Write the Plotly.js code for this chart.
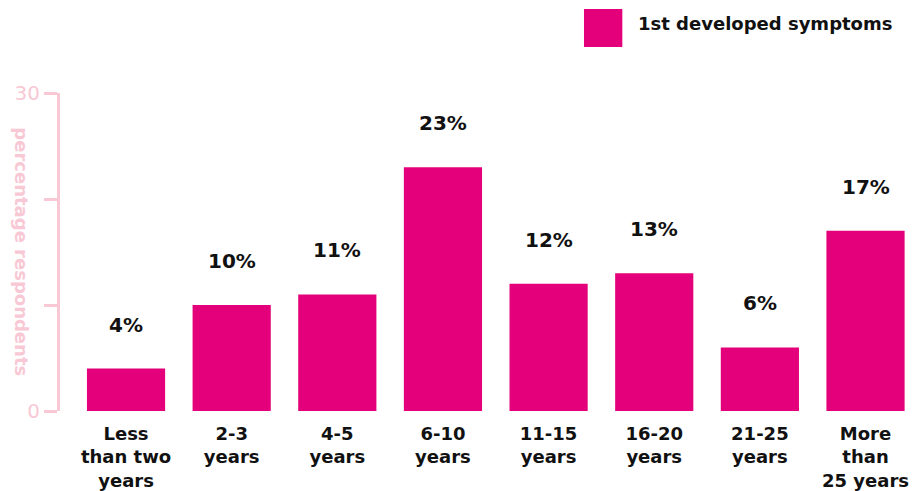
<!DOCTYPE html>
<html>
<head>
<meta charset="utf-8">
<script src="https://cdn.plot.ly/plotly-3.0.1.min.js"></script>
<style>html,body{margin:0;padding:0;background:#fff;}#chart{width:912px;height:491px;}</style>
</head>
<body>
<div id="chart"></div>
<script>
const categories = ["Less<br>than two<br>years", "2-3<br>years", "4-5<br>years", "6-10<br>years", "11-15<br>years", "16-20<br>years", "21-25<br>years", "More<br>than<br>25 years"];
const values = [4, 10, 11, 23, 12, 13, 6, 17];
const valueLabels = ["4%", "10%", "11%", "23%", "12%", "13%", "6%", "17%"];
const seriesName = "1st developed symptoms";
const yTickVals = [0, 10, 20, 30];
const yTickText = ["0", "", "", "30"];

const barColor = "#e4007a";
const axisPink = "#f8c8d5";
const font = "DejaVu Sans, Liberation Sans, Arial, sans-serif";

const trace = {
  type: "bar",
  x: categories,
  y: values,
  name: seriesName,
  marker: {color: barColor},
  hoverinfo: "none"
};

const annotations = categories.map((c, i) => ({
  x: c, y: values[i], xref: "x", yref: "y",
  text: "<b>" + valueLabels[i] + "</b>",
  showarrow: false, yanchor: "bottom", yshift: 30,
  font: {family: font, size: 20, color: "#111"}
}));
annotations.push({
  xref: "paper", yref: "paper", x: -0.045, y: 0.5,
  text: "<b>percentage respondents</b>", textangle: 90,
  showarrow: false, xanchor: "center", yanchor: "middle",
  font: {family: font, size: 18, color: axisPink}
});
annotations.push({
  xref: "paper", yref: "paper", x: 0.676, y: 1.217,
  text: "<b>" + seriesName + "</b>", showarrow: false,
  xanchor: "left", yanchor: "middle",
  font: {family: font, size: 18, color: "#111"}
});

const layout = {
  width: 912, height: 491,
  margin: {l: 60, r: 0, t: 93, b: 80},
  paper_bgcolor: "#fff", plot_bgcolor: "#fff",
  showlegend: false,
  bargap: 0.26,
  xaxis: {
    type: "category",
    range: [-0.625, 7.44],
    showline: false, showgrid: false, zeroline: false,
    ticks: "",
    ticklabelstandoff: 10,
    tickfont: {family: font, size: 18, color: "#111"},
    tickprefix: "<b>", ticksuffix: "</b>",
    fixedrange: true
  },
  yaxis: {
    range: [0, 30],
    showline: true, linecolor: axisPink, linewidth: 3,
    showgrid: false, zeroline: false,
    ticks: "outside", ticklen: 13, tickwidth: 3, tickcolor: axisPink,
    tickvals: yTickVals, ticktext: yTickText,
    tickfont: {family: font, size: 20, color: axisPink},
    tickprefix: "<b>", ticksuffix: "</b>",
    fixedrange: true
  },
  shapes: [{
    type: "rect", xref: "paper", yref: "paper",
    x0: 0.615, x1: 0.660, y0: 1.145, y1: 1.264,
    fillcolor: barColor, line: {width: 0}
  }],
  annotations: annotations
};

Plotly.newPlot("chart", [trace], layout, {displayModeBar: false, staticPlot: true});
</script>
</body>
</html>
